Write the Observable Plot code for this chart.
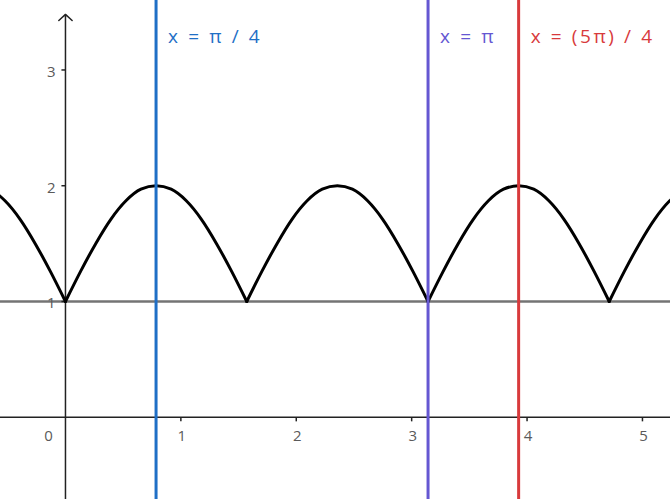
<!DOCTYPE html>
<html>
<head>
<meta charset="utf-8">
<script src="https://cdn.jsdelivr.net/npm/d3@7"></script>
<script src="https://cdn.jsdelivr.net/npm/@observablehq/plot@0.6"></script>
<style>
  html, body { margin: 0; padding: 0; background: white; }
  #chart { width: 670px; height: 499px; overflow: hidden; }
</style>
</head>
<body>
<div id="chart"></div>
<script>
// Curve y = 1 + |sin 2x|, grouped by arch
const curveX = [
  -0.785,-0.654,-0.524,-0.393,-0.262,-0.131,0,
  0,0.131,0.262,0.393,0.524,0.654,0.785,0.916,1.047,1.178,1.309,1.440,1.571,
  1.571,1.702,1.833,1.963,2.094,2.225,2.356,2.487,2.618,2.749,2.880,3.011,3.142,
  3.142,3.273,3.403,3.534,3.665,3.796,3.927,4.058,4.189,4.320,4.451,4.581,4.712,
  4.712,4.843,4.974,5.105,5.236,5.367,5.498
];
const curveY = [
  2.00,1.97,1.87,1.71,1.50,1.26,1.00,
  1.00,1.26,1.50,1.71,1.87,1.97,2.00,1.97,1.87,1.71,1.50,1.26,1.00,
  1.00,1.26,1.50,1.71,1.87,1.97,2.00,1.97,1.87,1.71,1.50,1.26,1.00,
  1.00,1.26,1.50,1.71,1.87,1.97,2.00,1.97,1.87,1.71,1.50,1.26,1.00,
  1.00,1.26,1.50,1.71,1.87,1.97,2.00
];
const curveArch = [
  -1,-1,-1,-1,-1,-1,-1,
  0,0,0,0,0,0,0,0,0,0,0,0,0,
  1,1,1,1,1,1,1,1,1,1,1,1,1,
  2,2,2,2,2,2,2,2,2,2,2,2,2,
  3,3,3,3,3,3,3
];

// Vertical lines and their labels
const lineX = [0.785, 3.142, 3.927];
const lineLabels = ["x = π / 4", "x = π", "x = (5π) / 4"];

// Horizontal line y = 1
const hLineY = [1];

// Axis ticks
const xTicks = [1, 2, 3, 4, 5];
const yTicks = [1, 2, 3];
const originLabel = ["0"];

const curve = curveX.map((x, i) => ({x, y: curveY[i], arch: curveArch[i]}));
const vlines = lineX.map((x, i) => ({x, label: lineLabels[i]}));

const xDomain = [-0.563, 5.243];
const yDomain = [-0.71, 3.60];
const tickGray = "#5a5a5a";

const chart = Plot.plot({
  width: 670,
  height: 499,
  margin: 0,
  x: {domain: xDomain, axis: null},
  y: {domain: yDomain, axis: null},
  color: {domain: lineLabels, range: ["#1f6fc6", "#6557d2", "#d83a3c"]},
  style: {fontFamily: "Open Sans, sans-serif", background: "white", overflow: "hidden"},
  marks: [
    // y = 1 gray line
    Plot.ruleY(hLineY, {y: d => d, stroke: "#747474", strokeWidth: 2.5}),
    // x axis
    Plot.ruleY([0], {stroke: "#222", strokeWidth: 1.5}),
    // y axis with arrow
    Plot.arrow([0], {x1: d => d, x2: d => d, y1: yDomain[0], y2: 3.48,
      stroke: "#222", strokeWidth: 1.5, headLength: 9, headAngle: 95}),
    // x ticks
    Plot.link(xTicks, {x1: d => d, x2: d => d, y1: 0, y2: -0.035, stroke: "#222", strokeWidth: 1.5}),
    // y ticks
    Plot.link(yTicks, {y1: d => d, y2: d => d, x1: 0, x2: -0.035, stroke: "#222", strokeWidth: 1.5}),
    // x tick labels
    Plot.text(xTicks, {x: d => d, y: 0, dy: 19, dx: 1, text: d => String(d), fill: tickGray, fontSize: 15}),
    Plot.text(originLabel, {x: 0, y: 0, dy: 19, dx: -17, text: d => d, fill: tickGray, fontSize: 15}),
    // y tick labels
    Plot.text(yTicks, {x: 0, y: d => d, dx: -10, dy: 2, textAnchor: "end", text: d => String(d), fill: tickGray, fontSize: 15}),
    // curve
    Plot.line(curve, {x: "x", y: "y", z: "arch", curve: "monotone-x", stroke: "black", strokeWidth: 3, clip: true}),
    // vertical lines
    Plot.ruleX(vlines, {x: "x", stroke: "label", strokeWidth: 3}),
    // labels
    Plot.text(vlines, {x: "x", text: "label", fill: "label", frameAnchor: "top", dy: 29, dx: 12,
      textAnchor: "start", fontSize: 19})
  ]
});
d3.select(chart).selectAll("text")
  .filter(function () { return lineLabels.includes(this.textContent); })
  .style("letter-spacing", "2.6px");
document.getElementById("chart").append(chart);
</script>
</body>
</html>
